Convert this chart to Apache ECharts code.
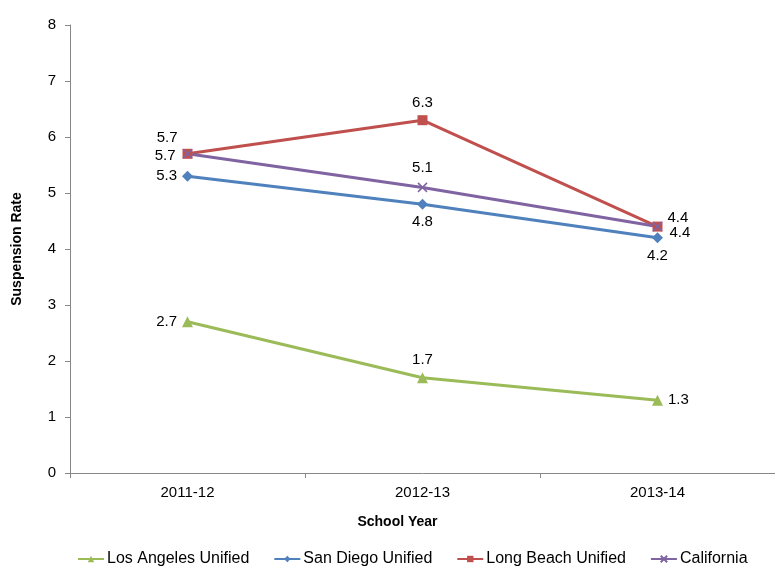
<!DOCTYPE html>
<html><head><meta charset="utf-8">
<script src="https://cdn.jsdelivr.net/npm/echarts@6/dist/echarts.min.js"></script>
<style>body{margin:0}#main{width:775px;height:574px}</style>
</head><body><div id="main"></div>
<script>
// 学年
const years = ['2011-12', '2012-13', '2013-14'];
// 各学区停学率
const laUnified = [2.7, 1.7, 1.3];
const sdUnified = [5.3, 4.8, 4.2];
const lbUnified = [5.7, 6.3, 4.4];
const california = [5.7, 5.1, 4.4];

const chart = echarts.init(document.getElementById('main'));
const font = { fontFamily: 'Liberation Sans, Arial', color: '#000', fontSize: 15 };

function lbl(positions, offsets) {
  return positions.map((p, i) => ({ label: { position: p, offset: offsets ? offsets[i] : [0, 0] } }));
}
function mk(name, data, color, symbol, size, pos, offs, extra) {
  return Object.assign({
    name, type: 'line', data: data.map((v, i) => Object.assign({ value: v }, lbl(pos, offs)[i])),
    symbol, symbolSize: size, color,
    lineStyle: { width: 3, color }, itemStyle: { color },
    label: { show: true, ...font, fontSize: 15 }
  }, extra || {});
}

chart.setOption({
  animation: false,
  grid: { left: 70, top: 25, right: -15, height: 448 },
  legend: {
    bottom: 2, left: 72, itemGap: 24, itemWidth: 26, itemHeight: 8,
    textStyle: { ...font, fontSize: 16, padding: [0, 0, 0, -2] }
  },
  xAxis: {
    type: 'category', data: years, name: 'School Year', nameLocation: 'middle', nameGap: 42,
    nameTextStyle: { ...font, fontWeight: 'bold', fontSize: 14, padding: [0, 50, 0, 0] },
    axisLabel: { ...font, margin: 12 },
    axisTick: { show: true, length: 5, lineStyle: { color: '#888' } },
    axisLine: { lineStyle: { color: '#888' } }
  },
  yAxis: {
    type: 'value', min: 0, max: 8, interval: 1, name: 'Suspension Rate', nameLocation: 'middle', nameGap: 46,
    nameTextStyle: { ...font, fontWeight: 'bold', fontSize: 14 },
    axisLabel: { ...font, margin: 14 },
    axisLine: { show: true, lineStyle: { color: '#888' } },
    axisTick: { show: true, length: 5, lineStyle: { color: '#888' } },
    splitLine: { show: false }
  },
  series: [
    mk('Los Angeles Unified', laUnified, '#9BBB59', 'triangle', 11, ['left', 'top', 'right']),
    mk('San Diego Unified', sdUnified, '#4F81BD', 'diamond', 11, ['left', 'bottom', 'bottom']),
    mk('Long Beach Unified', lbUnified, '#C0504D', 'rect', 10, ['left', 'top', 'right'], [[0, -16], [0, 0], [0, -9]]),
    mk('California', california, '#8064A2', 'path://M0,0L10,10M10,0L0,10', 9, ['left', 'top', 'right'], [[0, 2], [0, 0], [0, 6]],
      { itemStyle: { color: 'none', borderColor: '#8064A2', borderWidth: 1.5 } })
  ]
});
</script></body></html>
